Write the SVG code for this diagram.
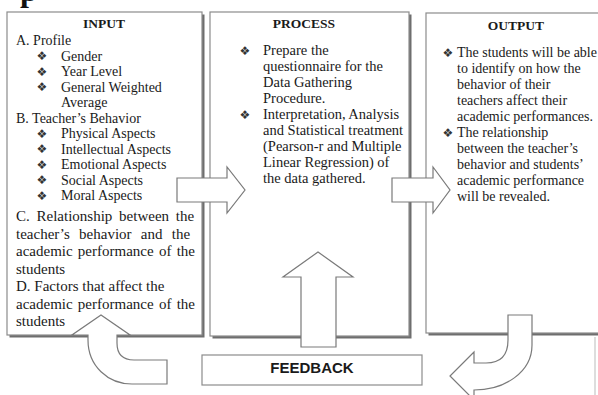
<svg xmlns="http://www.w3.org/2000/svg" width="598" height="395" viewBox="0 0 598 395">
<style>
.box{fill:#fff;stroke:#8c8c8c;stroke-width:1.2}
.shadow{fill:#6e6e6e}
.arrow{fill:#fff;stroke:#7a7a7a;stroke-width:1.2;stroke-linejoin:miter}
.t{font-family:"Liberation Serif","Times New Roman",serif;font-size:14px;fill:#1a1a1a}
.tc{font-family:"Liberation Serif","Times New Roman",serif;font-size:15px;fill:#1a1a1a}
.tp{font-family:"Liberation Serif","Times New Roman",serif;font-size:14.5px;fill:#1a1a1a}
.h{font-family:"Liberation Serif","Times New Roman",serif;font-size:13.5px;font-weight:bold;fill:#1a1a1a;text-anchor:middle}
.b{font-family:"DejaVu Sans",sans-serif;font-size:12px;fill:#333;text-anchor:middle}
.fb{font-family:"Liberation Sans",Arial,sans-serif;font-size:15px;font-weight:bold;fill:#1a1a1a;text-anchor:middle}
</style>
<rect width="598" height="395" fill="#fff"/>
<text x="20" y="1" font-family="Liberation Serif, serif" font-size="32" font-weight="bold" fill="#111">p</text>

<g id="input">
<rect class="shadow" x="9.5" y="14.5" width="195" height="323"/>
<rect class="box" x="7" y="12" width="195" height="323"/>
<text class="h" x="104" y="28">INPUT</text>
<text class="t" x="16" y="45">A. Profile</text>
<text class="b" x="42" y="60">❖</text><text class="t" x="61" y="60.5">Gender</text>
<text class="b" x="42" y="75.5">❖</text><text class="t" x="61" y="76">Year Level</text>
<text class="b" x="42" y="91">❖</text><text class="t" x="61" y="91.5">General Weighted</text>
<text class="t" x="61" y="107">Average</text>
<text class="t" x="16" y="122.5">B. Teacher’s Behavior</text>
<text class="b" x="42" y="137.5">❖</text><text class="t" x="61" y="138">Physical Aspects</text>
<text class="b" x="42" y="153">❖</text><text class="t" x="61" y="153.5">Intellectual Aspects</text>
<text class="b" x="42" y="168.5">❖</text><text class="t" x="61" y="169">Emotional Aspects</text>
<text class="b" x="42" y="184">❖</text><text class="t" x="61" y="184.5">Social Aspects</text>
<text class="b" x="42" y="199.5">❖</text><text class="t" x="61" y="200">Moral Aspects</text>
<text class="tc" x="16" y="221" word-spacing="3">C. Relationship between the</text>
<text class="tc" x="16" y="238.5" word-spacing="5.5">teacher’s behavior and the</text>
<text class="tc" x="16" y="256" word-spacing="1.5">academic performance of the</text>
<text class="tc" x="16" y="273.5">students</text>
<text class="tc" x="16" y="291">D. Factors that affect the</text>
<text class="tc" x="16" y="308.5" word-spacing="1.5">academic performance of the</text>
<text class="tc" x="16" y="326">students</text>
</g>

<g id="process">
<rect class="shadow" x="212.5" y="14.5" width="199" height="324"/>
<rect class="box" x="210" y="12" width="199" height="324"/>
<text class="h" x="304" y="28">PROCESS</text>
<text class="b" x="245" y="54.5">❖</text><text class="tp" x="263" y="55">Prepare the</text>
<text class="tp" x="263" y="71">questionnaire for the</text>
<text class="tp" x="263" y="87">Data Gathering</text>
<text class="tp" x="263" y="103">Procedure.</text>
<text class="b" x="245" y="118.5">❖</text><text class="tp" x="263" y="119">Interpretation, Analysis</text>
<text class="tp" x="263" y="135">and Statistical treatment</text>
<text class="tp" x="263" y="151">(Pearson-r and Multiple</text>
<text class="tp" x="263" y="167">Linear Regression) of</text>
<text class="tp" x="263" y="183">the data gathered.</text>
</g>

<g id="output">
<rect class="shadow" x="428.5" y="15.5" width="180" height="320"/>
<rect class="box" x="426" y="13" width="180" height="320"/>
<text class="h" x="516" y="30">OUTPUT</text>
<text class="b" x="448" y="56.5">❖</text><text class="t" x="457" y="57">The students will be able</text>
<text class="t" x="457" y="73">to identify on how the</text>
<text class="t" x="457" y="89">behavior of their</text>
<text class="t" x="457" y="105">teachers affect their</text>
<text class="t" x="457" y="121">academic performances.</text>
<text class="b" x="448" y="136.5">❖</text><text class="t" x="457" y="137">The relationship</text>
<text class="t" x="457" y="153">between the teacher’s</text>
<text class="t" x="457" y="169">behavior and students’</text>
<text class="t" x="457" y="185">academic performance</text>
<text class="t" x="457" y="201">will be revealed.</text>
</g>

<g id="feedback">
<rect class="box" x="202" y="355" width="220" height="30" stroke="#888"/>
<text class="fb" x="312" y="373">FEEDBACK</text>
</g>

<line x1="595" y1="337" x2="595" y2="395" stroke="#ddd" stroke-width="2"/>

<g id="connectors">
<path class="arrow" d="M177,178 H227 V167 L245,190 L227,213 V202 H177 Z"/>
<path class="arrow" d="M392,178 H433 V167 L450,190 L433,213 V202 H392 Z"/>
<path class="arrow" d="M301,347 V277 H283 L318,252 L353,277 H336 V347 Z"/>
<path class="arrow" d="M88,335 H72 L101,315 L130,335 H117 V343 Q117,360 134,360 H167 V384 H132 C108,384 88,366 88,340 Z"/>
<path class="arrow" d="M508,315 H532 V345 C532,372 505,390 474,390 V400 L450,376 L474,352 V363 H486 Q508,363 508,340 Z"/>
</g>
</svg>
